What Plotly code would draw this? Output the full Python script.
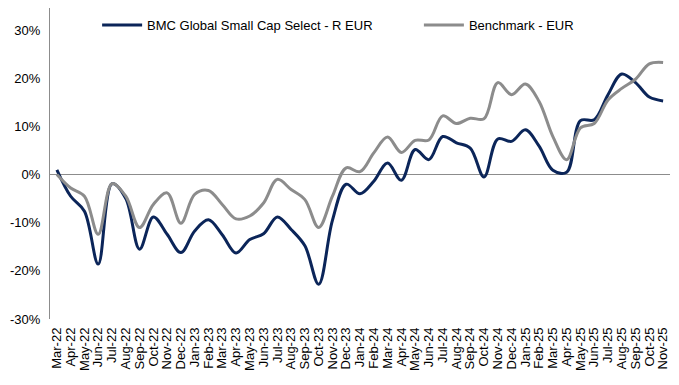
import plotly.graph_objects as go

months = ["Mar-22", "Apr-22", "May-22", "Jun-22", "Jul-22", "Aug-22", "Sep-22", "Oct-22", "Nov-22", "Dec-22",
          "Jan-23", "Feb-23", "Mar-23", "Apr-23", "May-23", "Jun-23", "Jul-23", "Aug-23", "Sep-23", "Oct-23", "Nov-23", "Dec-23",
          "Jan-24", "Feb-24", "Mar-24", "Apr-24", "May-24", "Jun-24", "Jul-24", "Aug-24", "Sep-24", "Oct-24", "Nov-24", "Dec-24",
          "Jan-25", "Feb-25", "Mar-25", "Apr-25", "May-25", "Jun-25", "Jul-25", "Aug-25", "Sep-25", "Oct-25", "Nov-25"]

fund = [1.0, -4.5, -7.6, -18.6, -1.9, -5.0, -15.5, -8.8, -12.4, -16.2,
        -11.7, -9.4, -12.5, -16.3, -13.5, -12.3, -8.8, -11.4, -14.8, -22.8, -9.5, -2.0,
        -4.0, -1.4, 2.4, -1.2, 5.2, 3.1, 7.9, 6.6, 5.5, -0.5, 7.4, 6.9,
        9.3, 5.9, 0.9, 0.5, 11.2, 11.4, 16.6, 20.9, 19.1, 16.1, 15.3]

bench = [0.0, -2.8, -4.5, -12.4, -1.9, -4.5, -11.0, -6.2, -3.8, -10.1,
         -4.1, -3.3, -6.2, -9.2, -8.6, -5.9, -1.0, -3.1, -5.2, -11.0, -4.5, 1.4,
         0.6, 4.5, 7.8, 4.6, 7.1, 7.2, 12.2, 10.6, 11.7, 11.6, 19.1, 16.6,
         18.8, 15.2, 7.9, 3.1, 9.7, 10.6, 15.5, 17.9, 19.8, 23.0, 23.3]

yticks = [-30, -20, -10, 0, 10, 20, 30]
ytick_labels = [f"{v}%" for v in yticks]

fig = go.Figure()
fig.add_trace(go.Scatter(x=months, y=fund, mode="lines", name="BMC Global Small Cap Select - R EUR",
                         legend="legend",
                         line=dict(color="#0B2559", width=3, shape="spline", smoothing=1.0)))
fig.add_trace(go.Scatter(x=months, y=bench, mode="lines", name="Benchmark - EUR",
                         legend="legend2",
                         line=dict(color="#8C8C8C", width=3, shape="spline", smoothing=1.0)))

leg_common = dict(orientation="h", yanchor="middle", y=0.945, xanchor="left",
                  bgcolor="rgba(0,0,0,0)", font=dict(size=13), itemwidth=40)

fig.update_layout(
    width=671, height=377,
    margin=dict(l=42, r=9, t=0, b=66, autoexpand=False),
    paper_bgcolor="white", plot_bgcolor="white",
    font=dict(family="Liberation Sans, Arial, sans-serif", size=13, color="#000000"),
    showlegend=True,
    legend=dict(x=0.076, **leg_common),
    legend2=dict(x=0.595, **leg_common),
)
fig.update_xaxes(type="category", range=[-0.5, 44.5], tickangle=-90, showgrid=False,
                 tickmode="array", tickvals=months, ticktext=months,
                 showline=False, ticks="", zeroline=False, tickfont=dict(size=13),
                 ticklabelstandoff=5, automargin=False)
fig.update_yaxes(range=[-30, 34.6], tickvals=yticks, ticktext=ytick_labels, showgrid=False,
                 showline=True, linecolor="#8C8C8C", linewidth=1, ticks="",
                 zeroline=True, zerolinecolor="#8C8C8C", zerolinewidth=1,
                 ticklabelstandoff=6, tickfont=dict(size=13), automargin=False)

fig.write_html("out.html")
